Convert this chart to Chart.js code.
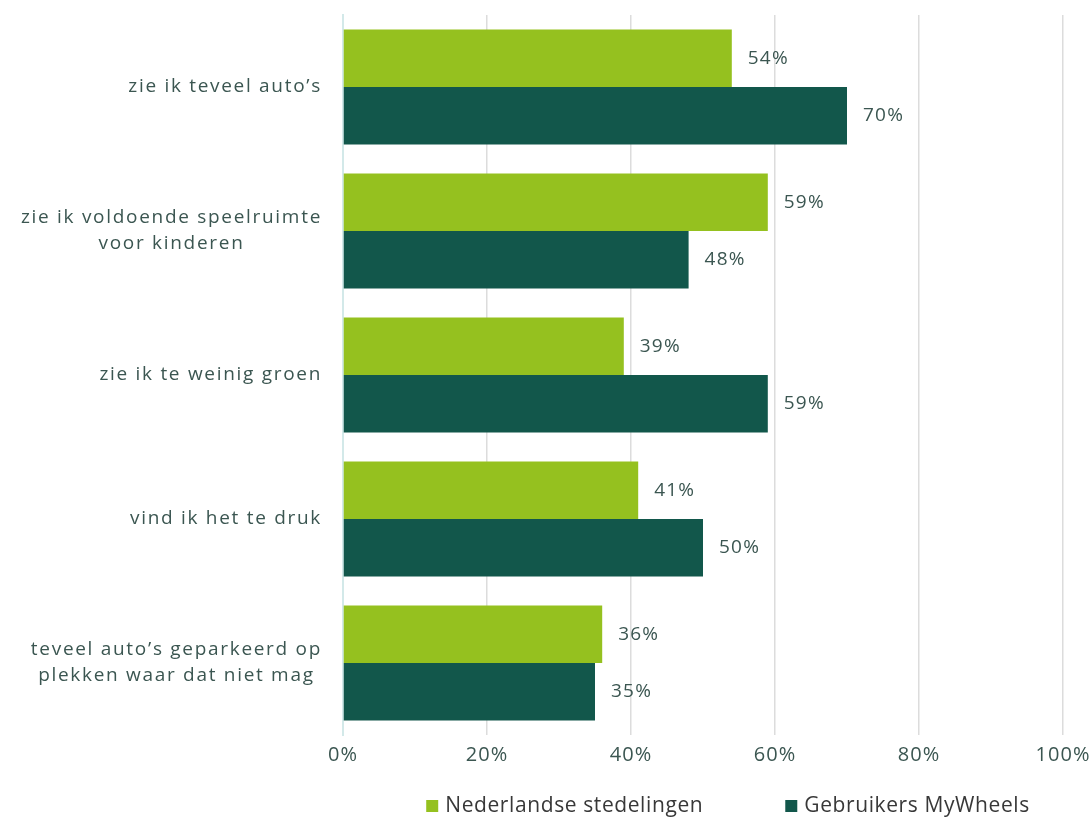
<!DOCTYPE html>
<html>
<head>
<meta charset="utf-8">
<script src="https://cdn.jsdelivr.net/npm/chart.js@4"></script>
<style>
  html, body { margin:0; padding:0; background:#fff; }
  #wrap { width:1089px; height:818px; }
</style>
</head>
<body>
<div id="wrap"><canvas id="chart" width="1089" height="818"></canvas></div>
<script>
// Categories (multi-line) and series
const categories = [
  ["zie ik teveel auto\u2019s"],
  ["zie ik voldoende speelruimte", "voor kinderen"],
  ["zie ik te weinig groen"],
  ["vind ik het te druk"],
  ["teveel auto\u2019s geparkeerd op", "plekken waar dat niet mag"]
];
const seriesNames = ["Nederlandse stedelingen", "Gebruikers MyWheels"];
const seriesColors = ["#95c11f", "#12574b"];
const stedelingen = [54, 59, 39, 41, 36];
const mywheels = [70, 48, 59, 50, 35];
const xTicks = [0, 20, 40, 60, 80, 100];

const TEXT = "#3b5651";
const FONT = "'Open Sans', Lato, sans-serif";

// Wider tracking for all canvas text
const spacing = {
  id: "spacing",
  beforeDraw(chart){ chart.ctx.letterSpacing = "1px"; }
};

// Category labels: block right-aligned to the axis, lines centred inside it
const categoryLabels = {
  id: "categoryLabels",
  afterDraw(chart){
    const ctx = chart.ctx;
    const y = chart.scales.y;
    const right = chart.chartArea.left - 21;
    const lh = 26;
    ctx.save();
    ctx.letterSpacing = "1.7px";
    ctx.font = "19px " + FONT;
    ctx.fillStyle = TEXT;
    ctx.textAlign = "center";
    ctx.textBaseline = "middle";
    categories.forEach((lines, i)=>{
      const w = Math.max(...lines.map(l=>ctx.measureText(l).width));
      const cx = right - w/2;
      const cy = y.getPixelForTick(i);
      lines.forEach((l, j)=>{
        ctx.fillText(l, cx, cy + (j - (lines.length-1)/2)*lh);
      });
    });
    ctx.restore();
  }
};

// Percentage next to each bar
const valueLabels = {
  id: "valueLabels",
  afterDatasetsDraw(chart){
    const ctx = chart.ctx;
    ctx.save();
    ctx.letterSpacing = "1.2px";
    ctx.font = "19px " + FONT;
    ctx.fillStyle = TEXT;
    ctx.textAlign = "left";
    ctx.textBaseline = "middle";
    chart.data.datasets.forEach((ds, di)=>{
      chart.getDatasetMeta(di).data.forEach((bar, i)=>{
        ctx.fillText(ds.data[i] + "%", bar.x + 16, bar.y);
      });
    });
    ctx.restore();
  }
};

// Legend along the bottom edge
const bottomLegend = {
  id: "bottomLegend",
  afterDraw(chart){
    const ctx = chart.ctx;
    const box = 12, gap = 7, itemGap = 82;
    ctx.save();
    ctx.letterSpacing = "0.6px";
    ctx.font = "21px " + FONT;
    ctx.textBaseline = "middle";
    ctx.textAlign = "left";
    const widths = seriesNames.map(n=>ctx.measureText(n).width);
    const total = widths.reduce((s,w)=>s + box + gap + w, 0) + itemGap*(seriesNames.length-1);
    let x = 728 - total/2;
    const y = 806;
    seriesNames.forEach((n, i)=>{
      ctx.fillStyle = seriesColors[i];
      ctx.fillRect(x, y - box/2, box, box);
      ctx.fillStyle = "#383838";
      ctx.fillText(n, x + box + gap, y);
      x += box + gap + widths[i] + itemGap;
    });
    ctx.restore();
  }
};

const ctx = document.getElementById("chart").getContext("2d");
new Chart(ctx, {
  type: "bar",
  data: {
    labels: categories,
    datasets: [
      { label: seriesNames[0], data: stedelingen, backgroundColor: seriesColors[0],
        categoryPercentage: 0.8, barPercentage: 1.0 },
      { label: seriesNames[1], data: mywheels, backgroundColor: seriesColors[1],
        categoryPercentage: 0.8, barPercentage: 1.0 }
    ]
  },
  plugins: [spacing, categoryLabels, valueLabels, bottomLegend],
  options: {
    indexAxis: "y",
    responsive: false,
    animation: false,
    layout: { padding: { left: 343, right: 26, top: 15, bottom: 43 } },
    scales: {
      x: {
        min: 0, max: 100,
        afterBuildTicks: (s)=>{ s.ticks = xTicks.map(v=>({ value: v })); },
        // let the 100% label hang into the right margin
        afterFit: (s)=>{ s.paddingRight = 0; },
        grid: { color: "#dcdcdc", lineWidth: 1.5, drawTicks: false },
        border: { display: false },
        ticks: {
          callback: (v)=>v + "%",
          color: TEXT,
          padding: 8,
          maxRotation: 0,
          font: { family: FONT, size: 20 }
        }
      },
      y: {
        afterFit: (s)=>{ s.width = 0; },
        grid: { display: false },
        border: { display: true, color: "#d3e9e9", width: 2 },
        ticks: { display: false }
      }
    },
    plugins: {
      tooltip: { enabled: false },
      legend: { display: false }
    }
  }
});
</script>
</body>
</html>
